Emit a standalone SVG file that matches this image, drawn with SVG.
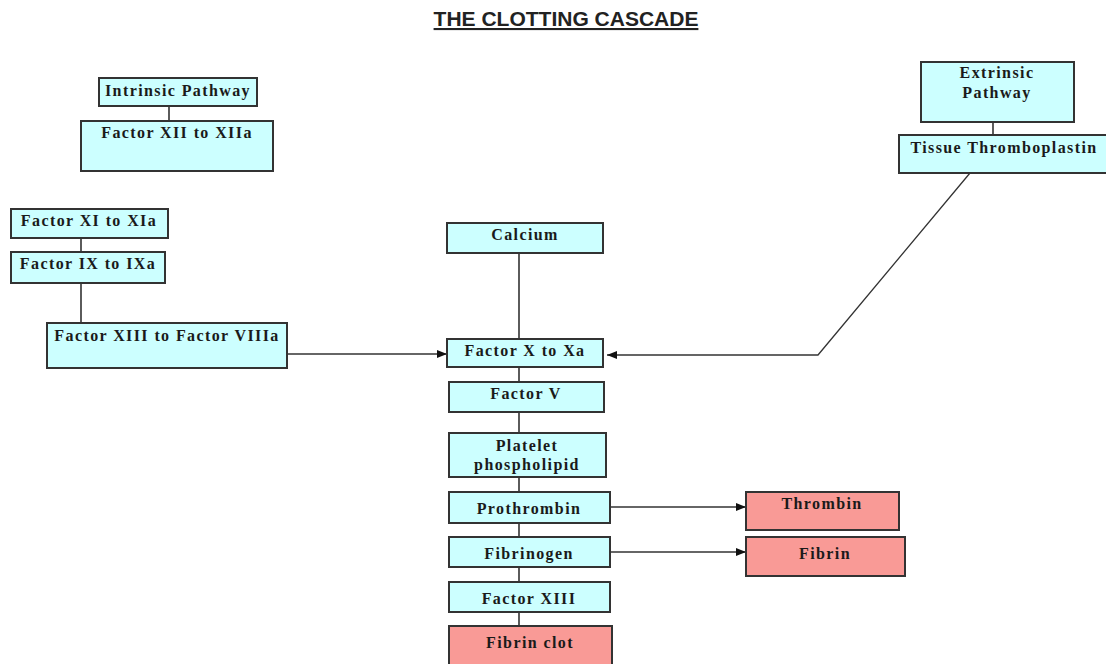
<svg xmlns="http://www.w3.org/2000/svg" width="1106" height="664" viewBox="0 0 1106 664">
<defs>
<marker id="arr" viewBox="0 0 10 10" refX="10" refY="5" markerWidth="10" markerHeight="10" markerUnits="userSpaceOnUse" orient="auto">
<path d="M0,1 L10,5 L0,9 z" fill="#111"/>
</marker>
<style>
.b{fill:#ccffff;stroke:#333;stroke-width:2}
.p{fill:#f99a96;stroke:#333;stroke-width:2}
.t{font-family:"Liberation Serif","Times New Roman",serif;font-weight:bold;font-size:16px;fill:#1a1a1a;text-anchor:middle;letter-spacing:1.4px}
.c{stroke:#333;stroke-width:1.6;fill:none}
.a{stroke:#333;stroke-width:1.3;fill:none}
</style>
</defs>
<rect width="1106" height="664" fill="#fff"/>
<text x="566" y="26" font-family="Liberation Sans,Arial,sans-serif" font-weight="bold" font-size="21" fill="#222" text-anchor="middle" text-decoration="underline">THE CLOTTING CASCADE</text>
<g id="connectors">
<line class="c" x1="169" y1="106" x2="169" y2="121"/>
<line class="c" x1="81" y1="238" x2="81" y2="252"/>
<line class="c" x1="81" y1="283" x2="81" y2="323"/>
<line class="c" x1="993" y1="122" x2="993" y2="135"/>
<line class="c" x1="519" y1="253" x2="519" y2="339"/>
<line class="c" x1="519" y1="367" x2="519" y2="382"/>
<line class="c" x1="519" y1="412" x2="519" y2="433"/>
<line class="c" x1="519" y1="477" x2="519" y2="492"/>
<line class="c" x1="519" y1="523" x2="519" y2="537"/>
<line class="c" x1="519" y1="567" x2="519" y2="582"/>
<line class="c" x1="519" y1="612" x2="519" y2="626"/>
<path class="a" d="M287,354 L447,354" marker-end="url(#arr)"/>
<path class="a" d="M970,173 L818,355 L607,355" marker-end="url(#arr)"/>
<path class="a" d="M610,507 L746,507" marker-end="url(#arr)"/>
<path class="a" d="M610,552 L746,552" marker-end="url(#arr)"/>
</g>
<g id="intrinsic"><rect class="b" x="99" y="78" width="158" height="28"/><text class="t" x="178" y="96">Intrinsic Pathway</text></g>
<g id="f12"><rect class="b" x="81" y="121" width="192" height="50"/><text class="t" x="177" y="138">Factor XII to XIIa</text></g>
<g id="f11"><rect class="b" x="11" y="209" width="157" height="29"/><text class="t" x="89" y="226">Factor XI to XIa</text></g>
<g id="f9"><rect class="b" x="11" y="252" width="154" height="31"/><text class="t" x="88" y="269">Factor IX to IXa</text></g>
<g id="f13to8"><rect class="b" x="47" y="323" width="240" height="45"/><text class="t" x="167" y="341">Factor XIII to Factor VIIIa</text></g>
<g id="extrinsic"><rect class="b" x="921" y="62" width="153" height="60"/><text class="t" x="997" y="78">Extrinsic</text><text class="t" x="997" y="98">Pathway</text></g>
<g id="tissue"><rect class="b" x="899" y="135" width="210" height="38"/><text class="t" x="1004" y="153">Tissue Thromboplastin</text></g>
<g id="calcium"><rect class="b" x="447" y="223" width="156" height="30"/><text class="t" x="525" y="240">Calcium</text></g>
<g id="fx"><rect class="b" x="447" y="339" width="156" height="28"/><text class="t" x="525" y="356">Factor X to Xa</text></g>
<g id="fv"><rect class="b" x="449" y="382" width="155" height="30"/><text class="t" x="526" y="399">Factor V</text></g>
<g id="platelet"><rect class="b" x="449" y="433" width="157" height="44"/><text class="t" x="527" y="451">Platelet</text><text class="t" x="527" y="470">phospholipid</text></g>
<g id="prothrombin"><rect class="b" x="449" y="492" width="161" height="31"/><text class="t" x="529" y="514">Prothrombin</text></g>
<g id="fibrinogen"><rect class="b" x="449" y="537" width="161" height="30"/><text class="t" x="529" y="559">Fibrinogen</text></g>
<g id="f13"><rect class="b" x="449" y="582" width="161" height="30"/><text class="t" x="529" y="604">Factor XIII</text></g>
<g id="clot"><rect class="p" x="449" y="626" width="163" height="42"/><text class="t" x="530" y="648">Fibrin clot</text></g>
<g id="thrombin"><rect class="p" x="746" y="492" width="153" height="38"/><text class="t" x="822" y="509">Thrombin</text></g>
<g id="fibrin"><rect class="p" x="746" y="537" width="159" height="39"/><text class="t" x="825" y="559">Fibrin</text></g>
</svg>
